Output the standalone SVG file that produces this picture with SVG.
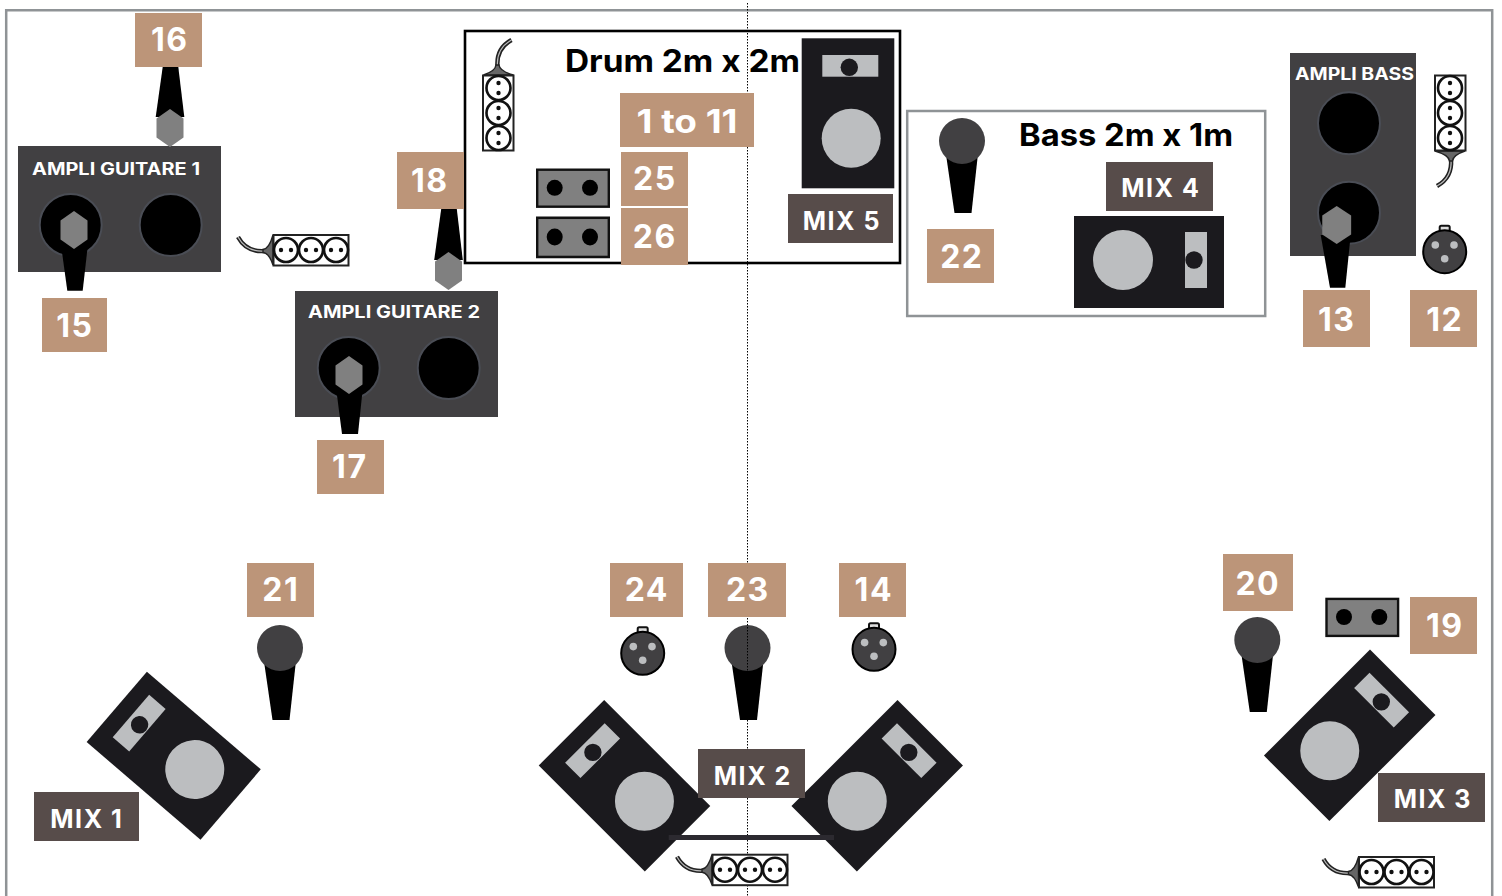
<svg xmlns="http://www.w3.org/2000/svg" width="1502" height="896" viewBox="0 0 1502 896">
<style>
text{font-family:Inter,"Liberation Sans",sans-serif;font-weight:700;fill:#fff}
.num{font-size:32px;text-anchor:middle;letter-spacing:1.5px;transform:translateX(.8px)}
.mix{font-size:25px;text-anchor:middle;letter-spacing:1.5px;transform:translateX(.8px)}
.amp{font-size:17px}
.title{font-size:31px;fill:#000}
.tag{fill:#bc9579}
.mixbg{fill:#574c4a}
.ampbg{fill:#414042}
.cone{fill:#000;stroke:#4a4d55;stroke-width:2}
.hex{fill:#808080}
.body{fill:#000}
.head{fill:#414042}
</style>
<defs>
<polygon id="hexagon" points="0,-19 13.5,-9.5 13.5,9.5 0,19 -13.5,9.5 -13.5,-9.5"/>
<g id="speaker">
<rect x="-46.3" y="-75" width="92.6" height="150" fill="#1b1a1e"/>
<rect x="-25.7" y="-58.3" width="56" height="21.7" fill="#bcbec0"/>
<circle cx="1.3" cy="-46" r="8.7" fill="#1b1a1e"/>
<circle cx="3.2" cy="25" r="29.5" fill="#bcbec0"/>
</g>
<g id="strip">
<path d="M-73,-13C-67,-2 -58,2 -46,1" fill="none" stroke="#222" stroke-width="4.4"/>
<path d="M-73,-13C-67,-2 -58,2 -46,1" fill="none" stroke="#bbb" stroke-width="1.2"/>
<path d="M-48,-0.5C-43,-1 -40,-8 -38,-15V15C-40,9 -43,3 -48,2.5Z" fill="#666" stroke="#222" stroke-width="1.4"/>
<rect x="-37.5" y="-15" width="75" height="30.5" fill="#fff" stroke="#222" stroke-width="2"/>
<g fill="#fff" stroke="#111" stroke-width="2.6">
<circle cx="-25" r="12"/><circle cx="0" r="12"/><circle cx="25" r="12"/>
</g>
<g fill="#111">
<circle cx="-30" r="2.2"/><circle cx="-20" r="2.2"/><circle cx="-5" r="2.2"/><circle cx="5" r="2.2"/><circle cx="20" r="2.2"/><circle cx="30" r="2.2"/>
</g>
</g>
<g id="socket">
<rect x="1.2" y="1.2" width="71.6" height="37" fill="#808080" stroke="#111" stroke-width="2.4"/>
<circle cx="18.7" cy="19.3" r="8" fill="#000"/><circle cx="54" cy="19.3" r="8" fill="#000"/>
</g>
<g id="xlr">
<rect x="-5" y="-26" width="10" height="7" rx="1.5" fill="#ddd" stroke="#111" stroke-width="2"/>
<circle r="21.5" fill="#414042" stroke="#000" stroke-width="2"/>
<g fill="#bcbec0"><circle cx="-9.4" cy="-6.7" r="3.8"/><circle cx="9.3" cy="-6.7" r="3.8"/><circle cy="7" r="3.8"/></g>
</g>
<g id="mic">
<polygon points="-15.5,17 15.5,17 9.5,72 -7.5,72" class="body"/>
<circle r="23" class="head"/>
</g>
</defs>
<rect width="1502" height="896" fill="#fff"/>
<g id="frame">
<path d="M6.2,900V10.2H1492.2V900" fill="none" stroke="#8f9396" stroke-width="2.5"/>
</g>
<g id="drum-box">
<rect x="465" y="31" width="435" height="232" fill="none" stroke="#000" stroke-width="2.6"/>
<text class="title" x="565" y="72" textLength="235" lengthAdjust="spacingAndGlyphs">Drum 2m x 2m</text>
</g>
<g id="bass-box">
<rect x="907.2" y="111" width="358" height="205" fill="none" stroke="#8f9396" stroke-width="2.5"/>
<text class="title" x="1019" y="146" textLength="214" lengthAdjust="spacingAndGlyphs">Bass 2m x 1m</text>
</g>
<g id="mic-23"><use href="#mic" x="747.5" y="648"/></g>
<g id="connectors">
<line x1="747.5" y1="3" x2="747.5" y2="896" stroke="#000" stroke-width="1" stroke-dasharray="1.5 1.5"/>
</g>
<g id="label-23"><rect class="tag" x="708" y="563" width="78" height="54"/><text class="num" x="747" y="601">23</text></g>

<g id="ampli-guitare-1">
<rect class="ampbg" x="18" y="146" width="203" height="126"/>
<circle class="cone" cx="70.7" cy="225" r="31"/><circle class="cone" cx="170.7" cy="225" r="31"/>
<text class="amp" x="32" y="175" textLength="168" lengthAdjust="spacingAndGlyphs">AMPLI GUITARE 1</text>
</g>
<g id="instrument-15">
<polygon class="body" points="61.7,250 87.3,250 82.7,290.7 67.3,290.7"/>
<use href="#hexagon" class="hex" x="74" y="230"/>
<rect class="tag" x="42" y="298" width="65" height="54"/><text class="num" x="74" y="337">15</text>
</g>
<g id="instrument-16">
<rect class="tag" x="135" y="13" width="67" height="54"/><text class="num" x="169" y="51">16</text>
<polygon class="body" points="162.7,67 178.3,67 184.3,117 155.7,117"/>
<use href="#hexagon" class="hex" x="170" y="128"/>
</g>
<g id="strip-guitare-1"><use href="#strip" x="311" y="250"/></g>

<g id="ampli-guitare-2">
<rect class="ampbg" x="295" y="291" width="203" height="126"/>
<circle class="cone" cx="348.7" cy="368" r="31"/><circle class="cone" cx="448.7" cy="368" r="31"/>
<text class="amp" x="308" y="318" textLength="172" lengthAdjust="spacingAndGlyphs">AMPLI GUITARE 2</text>
</g>
<g id="instrument-17">
<polygon class="body" points="336.7,393 362.3,393 358,434 342,434"/>
<use href="#hexagon" class="hex" x="349" y="375"/>
<rect class="tag" x="317" y="440" width="67" height="54"/><text class="num" x="349" y="478">17</text>
</g>
<g id="instrument-18">
<rect class="tag" x="397" y="152" width="67" height="57"/><text class="num" x="429" y="192">18</text>
<polygon class="body" points="441.2,209 456.8,209 462.8,260 434.2,260"/>
<use href="#hexagon" class="hex" x="448.5" y="271"/>
</g>

<g id="drum-items">
<use href="#strip" transform="translate(498.5,113) rotate(90)"/>
<use href="#socket" x="536" y="168.5"/>
<use href="#socket" transform="translate(536,216.5) scale(1,1.06)"/>
<rect class="tag" x="620" y="93" width="134" height="54"/><text class="num" x="687" y="133" style="letter-spacing:0;transform:none" textLength="101" lengthAdjust="spacingAndGlyphs">1 to 11</text>
<rect class="tag" x="621" y="152" width="67" height="54"/><text class="num" x="654" y="190">25</text>
<rect class="tag" x="621" y="208" width="67" height="57"/><text class="num" x="654" y="248">26</text>
</g>
<g id="mix-5">
<use href="#speaker" x="848" y="113.3"/>
<rect class="mixbg" x="788" y="194" width="105" height="49"/><text class="mix" x="841" y="230">MIX 5</text>
</g>

<g id="bass-items">
<use href="#mic" x="962" y="141"/>
<rect class="tag" x="927" y="229" width="67" height="54"/><text class="num" x="961" y="268">22</text>
<rect class="mixbg" x="1106" y="162" width="107" height="49"/><text class="mix" x="1160" y="197">MIX 4</text>
<rect x="1074" y="216" width="150" height="92" fill="#1b1a1e"/>
<circle cx="1123" cy="260" r="30" fill="#bcbec0"/>
<rect x="1185" y="232" width="22" height="56" fill="#bcbec0"/>
<circle cx="1194" cy="260" r="8.7" fill="#1b1a1e"/>
</g>

<g id="ampli-bass">
<rect class="ampbg" x="1290" y="53" width="126" height="203"/>
<circle class="cone" cx="1349" cy="123.3" r="31"/><circle class="cone" cx="1349" cy="212.7" r="31"/>
<text class="amp" x="1295" y="80" textLength="119" lengthAdjust="spacingAndGlyphs">AMPLI BASS</text>
</g>
<g id="instrument-13">
<polygon class="body" points="1320.7,235 1350.7,235 1345.3,287.7 1330,287.7"/>
<use href="#hexagon" class="hex" transform="translate(1336.7,225) scale(1.07,1)"/>
<rect class="tag" x="1303" y="290" width="67" height="57"/><text class="num" x="1336" y="331">13</text>
</g>
<g id="instrument-12">
<use href="#strip" transform="translate(1450,113) rotate(-90)"/>
<use href="#xlr" x="1444.7" y="251.7"/>
<rect class="tag" x="1410" y="290" width="67" height="57"/><text class="num" x="1444" y="331">12</text>
</g>

<g id="mix-1">
<use href="#speaker" transform="translate(173.7,755.7) rotate(-49.4)"/>
<rect class="mixbg" x="34" y="792" width="105" height="49"/><text class="mix" x="86" y="828">MIX 1</text>
</g>
<g id="instrument-21">
<use href="#mic" x="280" y="648"/>
<rect class="tag" x="247" y="563" width="67" height="54"/><text class="num" x="280" y="601">21</text>
</g>
<g id="instrument-24">
<rect class="tag" x="610" y="563" width="73" height="54"/><text class="num" x="646" y="601">24</text>
<use href="#xlr" x="642.7" y="653.3"/>
</g>
<g id="instrument-14">
<rect class="tag" x="839" y="563" width="67" height="54"/><text class="num" x="873" y="601">14</text>
<use href="#xlr" x="874" y="649.3"/>
</g>
<g id="mix-2">
<use href="#speaker" transform="translate(624.5,785.8) rotate(-45)"/>
<use href="#speaker" transform="translate(877.2,785.8) scale(-1,1) rotate(-45)"/>
<rect x="668.7" y="835" width="165.3" height="5" fill="#2c2a30"/>
<rect class="mixbg" x="698" y="749" width="107" height="49"/><text class="mix" x="752" y="785">MIX 2</text>
<use href="#strip" x="750" y="869.7"/>
</g>
<g id="instrument-20">
<use href="#mic" x="1257.3" y="640"/>
<rect class="tag" x="1223" y="554" width="70" height="57"/><text class="num" x="1257" y="595">20</text>
</g>
<g id="instrument-19">
<use href="#socket" x="1325.3" y="597.7"/>
<rect class="tag" x="1410" y="597" width="67" height="57"/><text class="num" x="1444" y="637">19</text>
</g>
<g id="mix-3">
<use href="#speaker" transform="translate(1349.7,735.3) scale(-1,1) rotate(-45)"/>
<rect class="mixbg" x="1378" y="773" width="107" height="49"/><text class="mix" x="1432" y="808">MIX 3</text>
<use href="#strip" x="1396.5" y="872"/>
</g>
</svg>
